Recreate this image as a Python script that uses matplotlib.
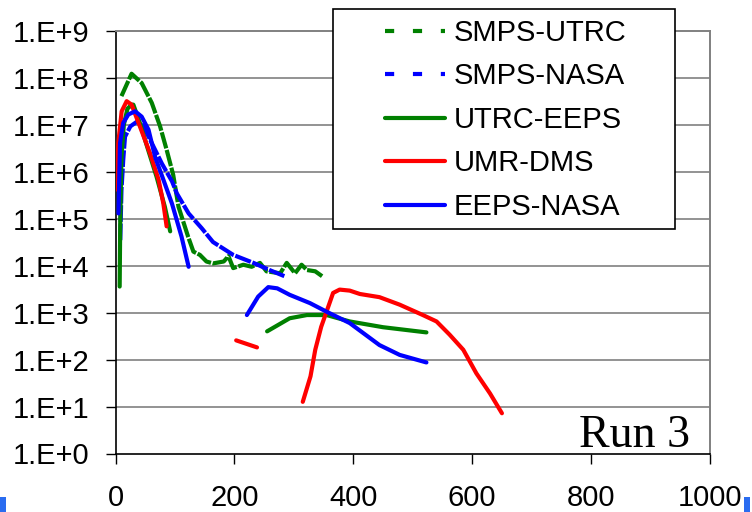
import matplotlib
matplotlib.use('Agg')
import matplotlib.pyplot as plt
import numpy as np
from matplotlib.patches import Rectangle
from matplotlib.lines import Line2D

nan = np.nan

# ---- data ----
smps_utrc_x = [10, 27, 44, 61, 75, 86, 97, 106, 122, 131, 142, 153, 164, 182, 190, 198, 215, 229, 243, 254,
               277, 288, 302, 313, 322, 336, 349]
smps_utrc_y = [4.1e7, 1.23e8, 7.8e7, 2.95e7, 9.3e6, 2.95e6, 8.7e5, 1.8e5, 4.2e4, 2.0e4, 1.7e4, 1.23e4, 1.12e4,
               1.23e4, 1.6e4, 8.9e3, 1.05e4, 9.5e3, 1.15e4, 7.6e3, 6.9e3, 1.15e4, 6.9e3, 1.05e4, 8.1e3, 7.6e3, 5.8e3]

smps_nasa_x = [8, 10, 13, 16, 25, 36, 47, 61, 78, 95, 103, 123, 145, 164, 198, 232, 260, 284]
smps_nasa_y = [3.5e4, 4.0e5, 1.8e6, 5.6e6, 9.3e6, 1.17e7, 9.3e6, 4.1e6, 1.5e6, 6.3e5, 3.5e5, 1.3e5, 6.3e4,
               3.2e4, 1.7e4, 1.15e4, 8.0e3, 6.0e3]

utrc_eeps_x = [7, 8, 10, 14, 20, 27, 30, 41, 53, 69, 83, 92, nan,
               255, 293, 322, 355, 394, 450, 523]
utrc_eeps_y = [3.6e3, 1.0e5, 2.0e6, 1.0e7, 2.2e7, 2.7e7, 2.7e7, 1.1e7, 3.5e6, 7.9e5, 1.8e5, 5.4e4, nan,
               400, 760, 890, 890, 650, 490, 380]

umr_dms_x = [2, 4.7, 10.4, 18.8, 27, 41, 58, 72.5, 80.5, 86, nan,
             203, 238, nan,
             315, 328, 336, 346, 358, 366, 377, 394, 411, 444, 478, 517, 540, 562, 585, 607, 630, 650]
umr_dms_y = [4.2e5, 4.1e6, 1.95e7, 3.2e7, 2.7e7, 9.3e6, 2.5e6, 6.8e5, 2.1e5, 6.9e4, nan,
             257, 182, nan,
             12.6, 44, 162, 500, 1350, 2630, 3100, 2950, 2500, 2140, 1480, 890, 650, 340, 162, 51, 19, 7.2]

eeps_nasa_x = [5, 7.6, 13, 21.5, 33, 44, 55.5, 67, 80, 95, 111, 123, nan,
               221, 240, 257, 272, 293, 327, 355, 394, 444, 478, 523]
eeps_nasa_y = [1.3e5, 4.1e6, 1.1e7, 1.66e7, 1.95e7, 1.5e7, 7.9e6, 2.0e6, 7.1e5, 2.1e5, 4.2e4, 9.5e3, nan,
               890, 2.2e3, 3.5e3, 3.3e3, 2.4e3, 1.6e3, 1.05e3, 600, 204, 126, 87]

series_labels = ['SMPS-UTRC', 'SMPS-NASA', 'UTRC-EEPS', 'UMR-DMS', 'EEPS-NASA']
x_ticks = [0, 200, 400, 600, 800, 1000]
y_ticks = [1e0, 1e1, 1e2, 1e3, 1e4, 1e5, 1e6, 1e7, 1e8, 1e9]
y_ticklabels = ['1.E+0', '1.E+1', '1.E+2', '1.E+3', '1.E+4', '1.E+5', '1.E+6', '1.E+7', '1.E+8', '1.E+9']

GREEN = '#008000'
BLUE = '#0000FF'
RED = '#FF0000'

plt.rcParams['font.family'] = ['Liberation Sans', 'DejaVu Sans']

W, H = 752, 512
fig = plt.figure(figsize=(W / 100, H / 100), dpi=100)
ax = fig.add_axes([115.5 / W, 1 - 453.5 / H, (710 - 115.5) / W, (453.5 - 31) / H])

lw = 3.0
ax.plot(smps_utrc_x, smps_utrc_y, color=GREEN, lw=lw, linestyle=(0, (4, 0.4)), zorder=3)
ax.plot(smps_nasa_x, smps_nasa_y, color=BLUE, lw=lw, linestyle=(0, (4, 0.4)), zorder=4)
ax.plot(utrc_eeps_x, utrc_eeps_y, color=GREEN, lw=lw, solid_capstyle='round', zorder=5)
ax.plot(umr_dms_x, umr_dms_y, color=RED, lw=lw, solid_capstyle='round', zorder=6)
ax.plot(eeps_nasa_x, eeps_nasa_y, color=BLUE, lw=lw, solid_capstyle='round', zorder=7)

ax.set_yscale('log')
ax.set_xlim(0, 1000)
ax.set_ylim(1, 1e9)
ax.set_xticks(x_ticks)
ax.set_xticklabels([str(v) for v in x_ticks])
ax.set_yticks(y_ticks)
ax.set_yticklabels(y_ticklabels)
ax.yaxis.set_minor_locator(matplotlib.ticker.NullLocator())
ax.tick_params(axis='both', labelsize=21, length=7, width=1.0, color='black', direction='out')
ax.tick_params(axis='x', pad=15)
ax.tick_params(axis='y', pad=12)

for v in y_ticks[1:-1]:
    ax.axhline(v, color='#808080', lw=1.2, zorder=1)

for s in ['top', 'right']:
    ax.spines[s].set_color('#808080')
    ax.spines[s].set_linewidth(1.4)
for s in ['left', 'bottom']:
    ax.spines[s].set_color('black')
    ax.spines[s].set_linewidth(1.2)

ax.text(690 / W, 1 - 447 / H, 'Run 3', transform=fig.transFigure, ha='right', va='baseline',
        fontsize=33, family=['Liberation Serif', 'DejaVu Serif'], zorder=10)

# legend box
fig.add_artist(Rectangle((333 / W, 1 - 229 / H), (675 - 333) / W, (229 - 9) / H, transform=fig.transFigure,
                         facecolor='white', edgecolor='black', lw=1.2, zorder=5))
handles = [
    Line2D([], [], color=GREEN, lw=lw, linestyle=(0, (2.2, 4.5))),
    Line2D([], [], color=BLUE, lw=lw, linestyle=(0, (2.2, 4.5))),
    Line2D([], [], color=GREEN, lw=lw, solid_capstyle='round'),
    Line2D([], [], color=RED, lw=lw, solid_capstyle='round'),
    Line2D([], [], color=BLUE, lw=lw, solid_capstyle='round'),
]
leg = fig.legend(handles, series_labels, loc='upper left', bbox_to_anchor=(385 / W, 1 - 19 / H),
                 frameon=False, fontsize=21, borderpad=0, borderaxespad=0, handlelength=2.05,
                 handletextpad=0.3, labelspacing=0.53)
leg.set_zorder(6)

# small blue marks at bottom corners
fig.add_artist(Rectangle((0, 0), 6 / W, 15 / H, transform=fig.transFigure, facecolor='#2a6cf0',
                         edgecolor='none', zorder=5))
fig.add_artist(Rectangle((744 / W, 0), 6 / W, 15 / H, transform=fig.transFigure, facecolor='#2a6cf0',
                         edgecolor='none', zorder=5))

fig.savefig('out.png', dpi=100)
